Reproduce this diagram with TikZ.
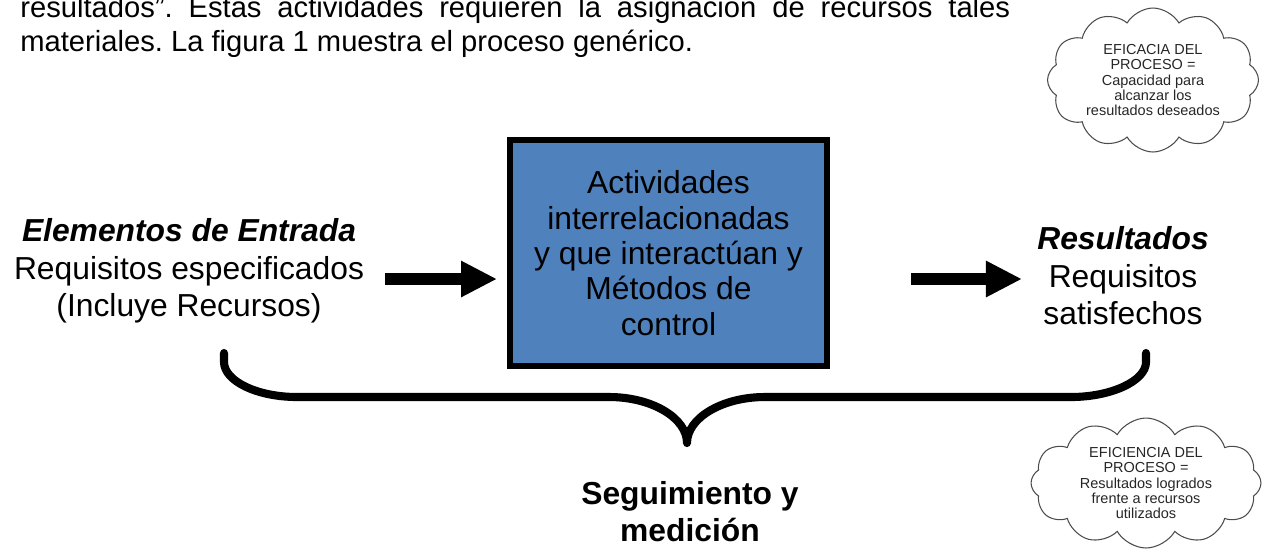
\documentclass[tikz,border=0pt]{standalone}
\usepackage{fontspec}
\setmainfont{Liberation Sans}
\usepackage{xcolor}
\usetikzlibrary{positioning,arrows.meta,shapes.symbols}
\definecolor{procblue}{HTML}{4F81BD}
\frenchspacing
\newcommand\parafont{\fontsize{16.6}{19.4}\selectfont}
\newcommand\bigfont{\fontsize{18.1}{21.3}\selectfont}
\newcommand\boxfont{\fontsize{18.1}{20.1}\selectfont}
\newcommand\cloudfont{\fontsize{8.25}{8.8}\selectfont}

\begin{document}
\begin{tikzpicture}[x=0.02cm, y=-0.02cm,
    big text/.style={align=center, inner sep=0pt, font=\bigfont},
    proc block/.style={rectangle, draw, line width=3.4pt, fill=procblue, minimum width=6.34cm, minimum height=4.52cm, align=center, inner sep=0pt, font=\boxfont},
    fat arrow/.style={line width=6.8pt, -{Triangle[length=20.5pt,width=19.3pt]}},
    note cloud/.style={cloud, cloud puffs=12, cloud puff arc=120, cloud ignores aspect, draw=black!70, line width=0.6pt, align=center, inner sep=0pt, font=\cloudfont, text=black!85},
    brace line/.style={line width=4.6pt, line join=round, line cap=round}]

    \useasboundingbox (0,0) rectangle (1277,556);

    % text above the figure
    \node [anchor=base west, inner sep=0pt, font=\parafont] (paraA) at (20,17) {\makebox[19.8cm][s]{resultados”. Estas actividades requieren la asignación de recursos tales}};
    \node [anchor=base west, inner sep=0pt, font=\parafont] (paraB) at (20,51) {materiales. La figura 1 muestra el proceso genérico.};

    \node [proc block] (proc) at (668.5,253) {Actividades\\interrelacionadas\\y que interactúan y\\Métodos de\\control};
    \node [big text] (inp) at (189,271) {\textbf{\textit{Elementos de Entrada}}\\Requisitos especificados\\(Incluye Recursos)};
    \node [big text] (outp) at (1123,276) {\textbf{\textit{Resultados}}\\Requisitos\\satisfechos};

    \coordinate (inTail) at (385,279);
    \coordinate (outTip) at (1022,279);
    \draw [fat arrow, shorten >=0.2cm] (inTail) -- (proc.west |- inTail);
    \draw [fat arrow, shorten <=1.62cm] (proc.east |- outTip) -- (outTip);

    % brace under the process
    \draw [brace line] (224,353) -- (224,362) .. controls (224,381) and (257,397) .. (297,397)
        -- (609,397) .. controls (652,397) and (687,418) .. (687,443)
        .. controls (687,418) and (722,397) .. (765,397)
        -- (1071,397) .. controls (1111,397) and (1146,381) .. (1146,362) -- (1146,353);

    \node [big text] (seg) at (690,511.5) {\textbf{Seguimiento y}\\\textbf{medición}};

    \node [note cloud, minimum width=4.22cm, minimum height=2.88cm] (eficacia) at (1153,80) {EFICACIA DEL\\PROCESO =\\Capacidad para\\alcanzar los\\resultados deseados};
    \node [note cloud, minimum width=4.6cm, minimum height=2.6cm] (eficiencia) at (1146,483) {EFICIENCIA DEL\\PROCESO =\\Resultados logrados\\frente a recursos\\utilizados};

\end{tikzpicture}
\end{document}
